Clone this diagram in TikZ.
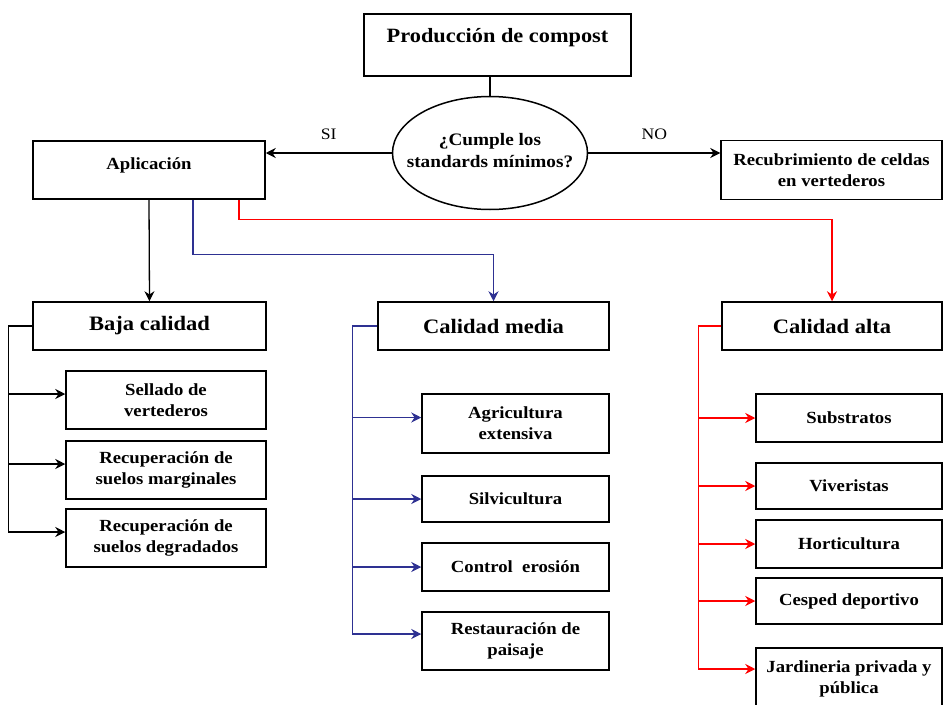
\documentclass[tikz,border=0pt]{standalone}
\usepackage{fontspec}
\setmainfont{Liberation Serif}[FakeStretch=1.1]
\usetikzlibrary{arrows.meta, positioning, shapes.geometric, calc}
\definecolor{cpblue}{HTML}{2E3192}
\definecolor{cpred}{HTML}{FF0000}

\begin{document}
\begin{tikzpicture}[x=1pt, y=-1pt,
  every node/.style={font=\fontsize{17}{21}\selectfont\bfseries},
  box/.style={rectangle, draw, line width=1.5pt, align=center, inner sep=2pt},
  head/.style={box, font=\fontsize{20.5}{24}\selectfont\bfseries},
  link/.style={line width=1.3pt, -{Stealth[length=10pt, width=10pt]}},
]
\useasboundingbox (0,0) rectangle (944,704);

% Top
\node[box, minimum width=267, minimum height=62, text height=14pt, text depth=20pt, font=\fontsize{20.3}{24}\selectfont\bfseries] (prod) at (497.5,45) {Producción de compost};
\node[ellipse, draw, line width=1.5pt, minimum width=195, minimum height=113, inner sep=0pt] (crit) at (490,153) {};
\node[align=center, font=\fontsize{17.5}{22}\selectfont\bfseries] (crittext) at ([yshift=2pt]crit.center) {¿Cumple los\\standards mínimos?};
\node[box, minimum width=232, minimum height=58, text height=12pt, text depth=14pt] (apl) at (149,170) {Aplicación};
\node[box, minimum width=221, minimum height=59] (recub) at (831.5,170) {Recubrimiento de celdas\\en vertederos};

\draw[line width=1.3pt] (crit.north |- prod.south) -- (crit.north);
\draw[link] (crit.west) -- (crit.west -| apl.east) node[midway, above=9pt, font=\fontsize{16}{19}\selectfont] {SI};
\draw[link] (crit.east) -- (crit.east -| recub.west) node[midway, above=9pt, font=\fontsize{16}{19}\selectfont] {NO};

% Quality levels
\node[head, minimum width=233, minimum height=48] (baja) at (149.5,326) {Baja calidad};
\node[head, minimum width=231, minimum height=48] (media) at (493.5,326) {Calidad media};
\node[head, minimum width=220, minimum height=48] (alta) at (832,326) {Calidad alta};

\draw[link] (apl.south) -- (baja.north);
\draw[link, cpblue] ([xshift=44pt]apl.south) -- ++(0,55) -| (media.north);
\draw[link, cpred] ([xshift=90pt]apl.south) -- ++(0,20) -| (alta.north);

% Baja calidad
\node[box, minimum width=200, minimum height=58] (s1) at (166,400) {Sellado de\\vertederos};
\node[box, minimum width=200, minimum height=58] (s2) at (166,470) {Recuperación de\\suelos marginales};
\node[box, minimum width=200, minimum height=58] (s3) at (166,538) {Recuperación de\\suelos degradados};

\draw[line width=1.3pt] (baja.west) -- ++(-24,0) coordinate (bj);
\foreach \n/\d in {s1/6, s2/6, s3/6}{
  \path ([yshift=\d pt]\n.west) coordinate (t);
  \draw[link] (bj) |- (t);
}

% Calidad media
\node[box, minimum width=187, minimum height=59] (m1) at (515.5,423.5) {Agricultura\\extensiva};
\node[box, minimum width=187, minimum height=46] (m2) at (515.5,499) {Silvicultura};
\node[box, minimum width=187, minimum height=48] (m3) at (515.5,567) {Control~ erosión};
\node[box, minimum width=187, minimum height=58] (m4) at (515.5,641) {Restauración de\\paisaje};

\draw[line width=1.3pt, cpblue] (media.west) -- ++(-25,0) coordinate (mj);
\foreach \n/\d in {m1/6, m2/0, m3/0, m4/7}{
  \path ([yshift=\d pt]\n.west) coordinate (t);
  \draw[link, cpblue] (mj) |- (t);
}

% Calidad alta
\node[box, minimum width=186, minimum height=48] (a1) at (849,418) {Substratos};
\node[box, minimum width=186, minimum height=46] (a2) at (849,486) {Viveristas};
\node[box, minimum width=186, minimum height=48] (a3) at (849,544) {Horticultura};
\node[box, minimum width=186, minimum height=46] (a4) at (849,601) {Cesped deportivo};
\node[box, minimum width=186, minimum height=62] (a5) at (849,679) {Jardineria privada y\\pública};

\draw[line width=1.3pt, cpred] (alta.west) -- ++(-23,0) coordinate (aj);
\foreach \n/\d in {a1/0, a2/0, a3/0, a4/0, a5/10}{
  \path ([yshift=\d pt]\n.west) coordinate (t);
  \draw[link, cpred] (aj) |- (t);
}

\end{tikzpicture}
\end{document}
